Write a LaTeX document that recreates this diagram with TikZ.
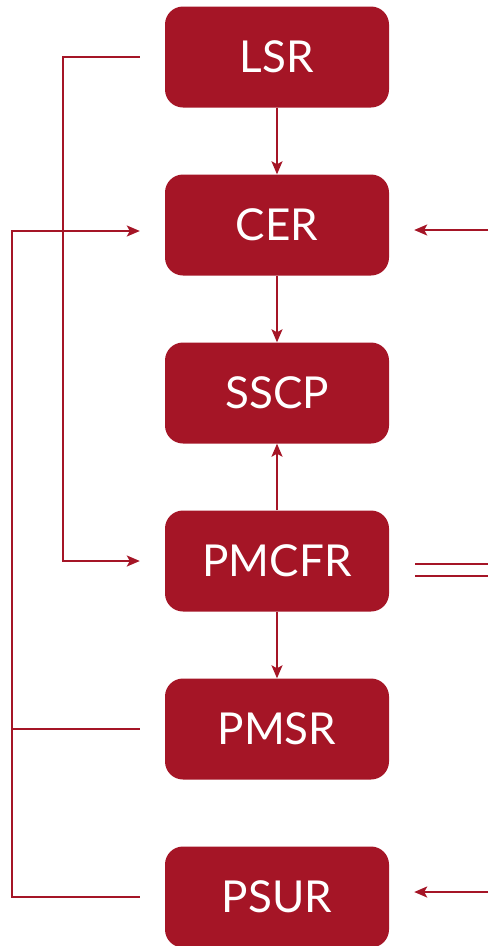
\documentclass[tikz,border=0pt]{standalone}
\usepackage{fontspec}
\setmainfont{Lato}
\usetikzlibrary{shapes,arrows.meta}
\definecolor{crimson}{HTML}{A51526}
\tikzstyle{report} = [rectangle, rounded corners=18pt, minimum width=224pt, minimum height=101pt, text centered, fill=crimson, text=white, font=\fontsize{44}{50}\selectfont]
\tikzstyle{link} = [draw=crimson, line width=2pt]
\tikzstyle{arrow} = [link, -{Stealth[length=13pt, width=11pt, inset=3pt]}]
\tikzstyle{twin} = [draw=crimson, line width=2pt, double=white, double distance=10pt]

\begin{document}
\begin{tikzpicture}[x=1pt, y=-1pt, node distance=168pt]
\useasboundingbox (0,0) rectangle (488,946);

\node (lsr) [report] at (277,57) {LSR};
\node (cer) [report, below of=lsr] {CER};
\node (sscp) [report, below of=cer] {SSCP};
\node (pmcfr) [report, below of=sscp] {PMCFR};
\node (pmsr) [report, below of=pmcfr] {PMSR};
\node (psur) [report, below of=pmsr] {PSUR};

\coordinate (railin) at (63,300);
\coordinate (railout) at (12,500);
\coordinate (cerin) at (488,230);
\coordinate (pmcfrout) at (488,570);
\coordinate (psurin) at (488,892);

\draw [arrow] (lsr) -- (cer);
\draw [arrow] (cer) -- (sscp);
\draw [arrow] (pmcfr) -- (sscp);
\draw [arrow] (pmcfr) -- (pmsr);

\draw [arrow, shorten <=25pt, shorten >=25pt] (lsr.west) -| (railin) |- (pmcfr.west);
\draw [arrow, shorten <=25pt, shorten >=25pt] (psur.west) -| (railout) |- ([yshift=-6pt]cer.west);
\draw [link, shorten <=25pt] (pmsr.west) -- (pmsr.west -| railout);

\draw [arrow, shorten >=25pt] (cerin) -- (cer.east |- cerin);
\draw [twin, shorten <=26pt] (pmcfr.east |- pmcfrout) -- (pmcfrout);
\draw [arrow, shorten >=25pt] (psurin) -- (psur.east |- psurin);

\end{tikzpicture}
\end{document}
